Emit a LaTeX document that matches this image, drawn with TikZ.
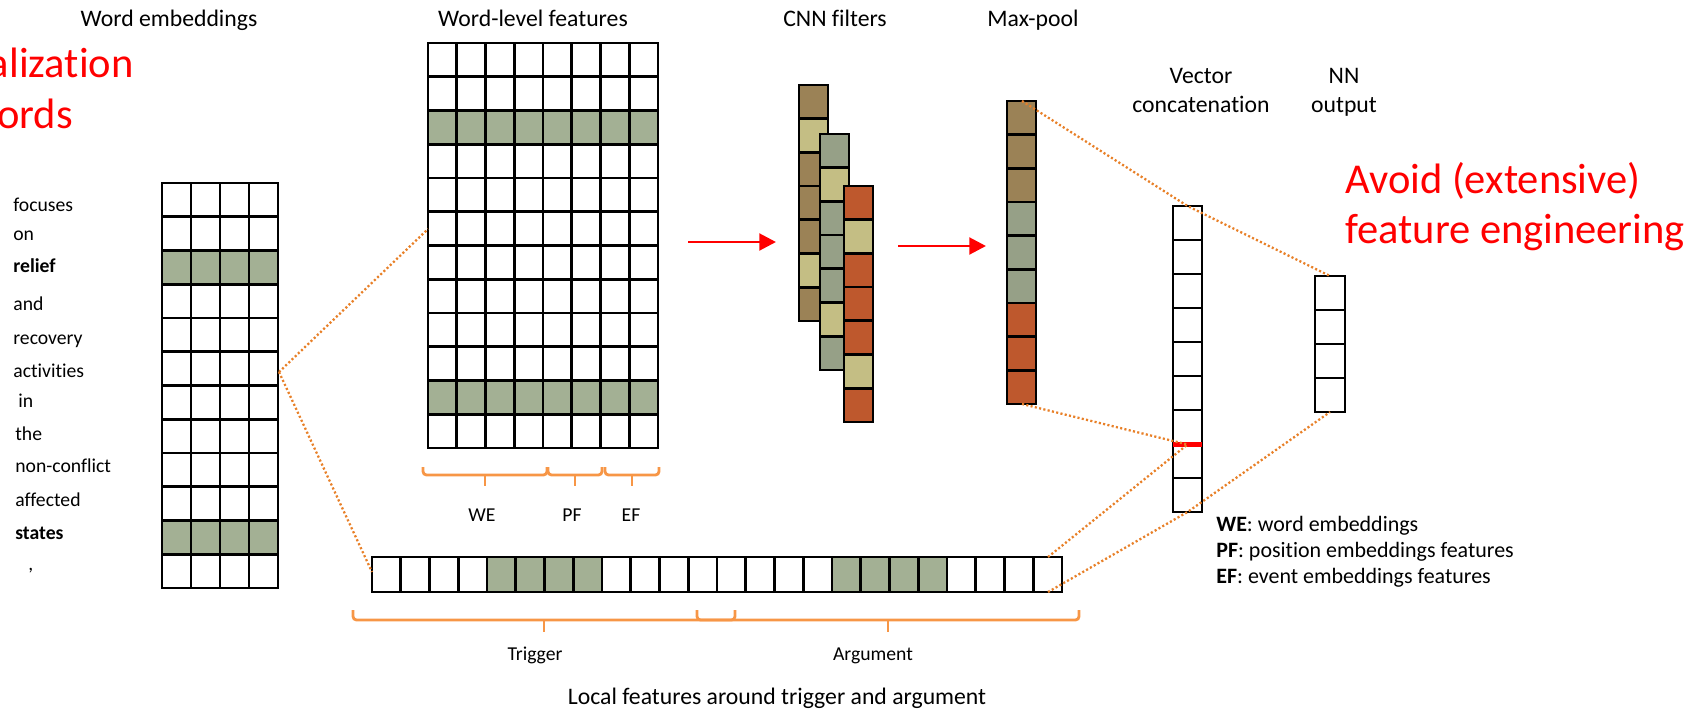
\documentclass[tikz,border=0pt]{standalone}
\usepackage{fontspec}
\setmainfont{Carlito}[Ligatures=NoCommon]
\usetikzlibrary{arrows.meta}
\definecolor{gcell}{RGB}{163,176,148}
\definecolor{brn}{RGB}{155,130,86}
\definecolor{tancol}{RGB}{196,190,132}
\definecolor{sage}{RGB}{150,160,135}
\definecolor{rust}{RGB}{190,88,45}
\definecolor{dotor}{RGB}{232,128,40}
\definecolor{bracecol}{RGB}{247,150,70}
\tikzset{
  cell/.style={draw=black, line width=1.5pt},
  dotline/.style={draw=dotor, line width=1.3pt, dash pattern=on 1.2pt off 1.3pt},
  bracepath/.style={draw=bracecol, line width=1.6pt, rounded corners=2pt},
  redarrow/.style={draw=red, line width=1.7pt, -{Triangle[length=9.5pt,width=9.5pt]}},
  title/.style={font=\fontsize{13.5}{16}\selectfont, inner sep=0pt, anchor=base},
  word/.style={font=\fontsize{11.2}{13}\selectfont, inner sep=0pt, anchor=base west},
  small/.style={font=\fontsize{11.2}{13}\selectfont, inner sep=0pt, anchor=base},
  legend/.style={font=\fontsize{12.5}{14}\selectfont, inner sep=0pt, anchor=base west},
  bigred/.style={font=\fontsize{24.2}{29}\selectfont, text=red, inner sep=0pt},
}
\newcommand\vcol[5]{%
  \foreach \cc [count=\k from 0] in {#5} {\draw[cell, fill=\cc] ({#1},{#2+#4*\k}) rectangle ++(#3,#4);}}
\begin{document}
\begin{tikzpicture}[x=0.02cm, y=-0.02cm]
\useasboundingbox (0,0) rectangle (1699,710);
\clip (0,0) rectangle (1699,710);

% ---------- titles ----------
\node[title] (t1) at (169,27) {Word embeddings};
\node[title] (t2) at (533,27) {Word-level features};
\node[title] (t3) at (835,27) {CNN filters};
\node[title] (t4) at (1033,27) {Max-pool};
\node[title] (t5a) at (1201,83) {Vector};
\node[title] (t5b) at (1201,112) {concatenation};
\node[title] (t6a) at (1344,83) {NN};
\node[title] (t6b) at (1344,112) {output};

% ---------- red remarks ----------
\node[bigred, anchor=base east] (r1) at (134,77) {alization};
\node[bigred, anchor=base east] (r2) at (73,128) {ords};
\node[bigred, anchor=base west] (r3) at (1345,193) {Avoid (extensive)};
\node[bigred, anchor=base west] (r4) at (1345,243) {feature engineering};

% ---------- sentence words ----------
\node[word] (w1) at (13,211) {focuses};
\node[word] (w2) at (13,240) {on};
\node[word] (w3) at (13,272) {\textbf{relief}};
\node[word] (w4) at (13,310) {and};
\node[word] (w5) at (13,344) {recovery};
\node[word] (w6) at (13,377) {activities};
\node[word] (w7) at (18,407) {in};
\node[word] (w8) at (15,440) {the};
\node[word] (w9) at (15,472) {non-conflict};
\node[word] (w10) at (15,506) {affected};
\node[word] (w11) at (15,539) {\textbf{states}};
\node[word] (w12) at (28,570) {,};

% ---------- word embeddings grid ----------
\foreach \j in {0,...,3}{
  \vcol{162+29*\j}{183}{29}{33.75}{white,white,gcell,white,white,white,white,white,white,white,gcell,white}}

% ---------- word-level features grid ----------
\foreach \j in {0,...,7}{
  \vcol{428+28.75*\j}{43}{28.75}{33.75}{white,white,gcell,white,white,white,white,white,white,white,gcell,white}}

% ---------- CNN filters ----------
\vcol{799}{85}{29}{33.7}{brn,tancol,brn,brn,brn,tancol,brn}
\vcol{820}{134}{29}{33.7}{sage,tancol,sage,sage,sage,tancol,sage}
\vcol{844}{186}{29}{33.7}{rust,tancol,rust,rust,rust,tancol,rust}

% ---------- max-pool ----------
\vcol{1007}{101}{29}{33.67}{brn,brn,brn,sage,sage,sage,rust,rust,rust}

% ---------- vector concatenation ----------
\vcol{1173}{206}{29}{34}{white,white,white,white,white,white,white,white,white}
\fill[red] (1173,442) rectangle (1202,447);

% ---------- NN output ----------
\vcol{1315}{276}{30}{34}{white,white,white,white}

% ---------- long feature row ----------
\foreach \cc [count=\k from 0] in {white,white,white,white,gcell,gcell,gcell,gcell,white,white,white,white,white,white,white,white,gcell,gcell,gcell,gcell,white,white,white,white}
  {\draw[cell, fill=\cc] ({372+28.75*\k},557) rectangle ++(28.75,35);}

% ---------- red arrows ----------
\coordinate (a1s) at (688,242);
\coordinate (a1e) at (776,242);
\coordinate (a2s) at (898,246);
\coordinate (a2e) at (986,246);
\draw[redarrow] (a1s) -- (a1e);
\draw[redarrow] (a2s) -- (a2e);

% ---------- braces ----------
\draw[bracepath] (423,467) -- (423,475) -- (547,475) -- (547,467);
\draw[bracepath] (485,475) -- (485,486);
\draw[bracepath] (548,467) -- (548,475) -- (602,475) -- (602,467);
\draw[bracepath] (575,475) -- (575,486);
\draw[bracepath] (605,467) -- (605,475) -- (659,475) -- (659,467);
\draw[bracepath] (632,475) -- (632,486);
\node[small] (lwe) at (482,521) {WE};
\node[small] (lpf) at (572,521) {PF};
\node[small] (lef) at (631,521) {EF};

\draw[bracepath] (353,610) -- (353,620) -- (735,620) -- (735,610);
\draw[bracepath] (544,620) -- (544,632);
\draw[bracepath] (697,610) -- (697,620) -- (1079,620) -- (1079,610);
\draw[bracepath] (888,620) -- (888,632);
\node[small] (ltr) at (535,660) {Trigger};
\node[small] (lar) at (873,660) {Argument};
\node[title] (lloc) at (777,704) {Local features around trigger and argument};

% ---------- legend ----------
\node[legend] (g1) at (1216,531) {\textbf{WE}: word embeddings};
\node[legend] (g2) at (1216,557) {\textbf{PF}: position embeddings features};
\node[legend] (g3) at (1216,583) {\textbf{EF}: event embeddings features};

% ---------- dotted connectors ----------
\coordinate (weA) at (279,372);
\coordinate (wlA) at (428,229);
\coordinate (lrA) at (372,572);
\coordinate (mpT) at (1022,101);
\coordinate (mpB) at (1022,404);
\coordinate (ccT) at (1187.5,206);
\coordinate (ccR) at (1187.5,444.5);
\coordinate (ccB) at (1187.5,512);
\coordinate (nnT) at (1330,276);
\coordinate (nnB) at (1330,412);
\coordinate (lrT) at (1048,557);
\coordinate (lrB) at (1048,592);
\draw[dotline] (weA) -- (wlA);
\draw[dotline] (weA) -- (lrA);
\draw[dotline] (mpT) -- (ccT) -- (nnT);
\draw[dotline] (mpB) -- (ccR);
\draw[dotline] (lrT) -- (ccR);
\draw[dotline] (lrB) -- (ccB) -- (nnB);
\end{tikzpicture}
\end{document}
